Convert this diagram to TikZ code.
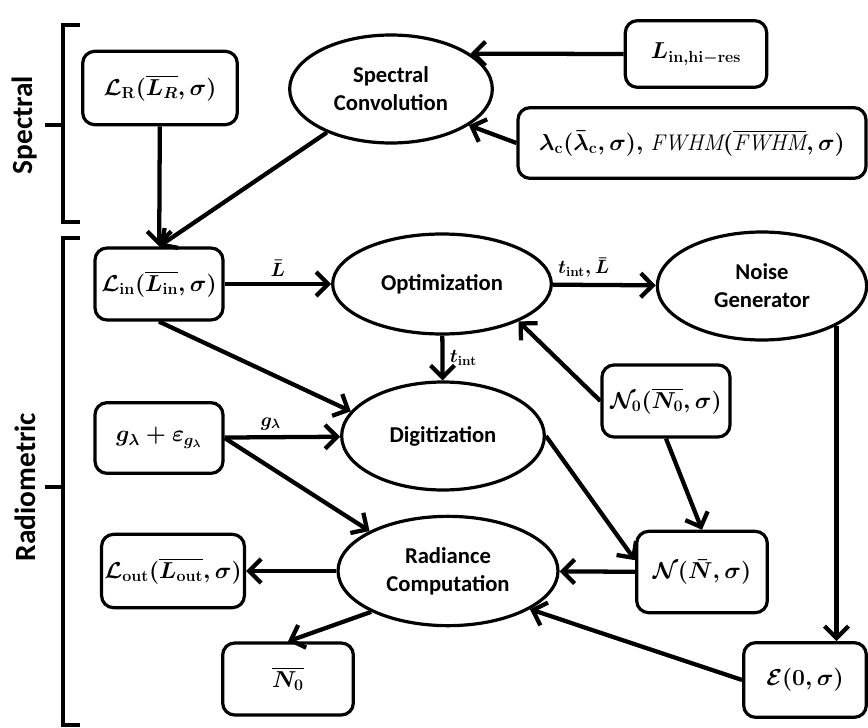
\documentclass[tikz,border=0pt]{standalone}
\usepackage{amsmath}
\usepackage{amssymb}
\usepackage{fontspec}
\setsansfont{Carlito}
\usetikzlibrary{positioning, arrows.meta, shapes.geometric}
\tikzstyle{arrow} = [line width=3.2pt,-{Straight Barb[length=9pt,width=18pt]}]

\begin{document}
\begin{tikzpicture}[x=0.75pt,y=-0.75pt]
    \tikzstyle{every node}=[font=\fontsize{17}{21}\selectfont\boldmath]
    \tikzstyle{block} = [rectangle, rounded corners=9pt, draw=black,
    line width=2.4pt, align=center, inner sep=2pt]
    \tikzstyle{process} = [ellipse, draw=black, line width=2.4pt, align=center,
    inner sep=1pt, font=\sffamily\bfseries\fontsize{17}{21}\selectfont]
    \tikzstyle{tag} = [font=\fontsize{14}{16}\selectfont\boldmath, inner sep=2pt]
    \tikzstyle{side} = [rotate=90, font=\sffamily\bfseries\fontsize{22}{26}\selectfont]

    \useasboundingbox (0,0) rectangle (868,728);

    % spectral part
    \node[block, minimum width=116pt, minimum height=55pt] (lr) at (160,88)
    {$\mathcal{L}_{\mathbf{R}}(\overline{L_R},\sigma)$};
    \node[process, minimum width=152pt, minimum height=81pt] (conv) at (391,89)
    {Spectral\\Convolution};
    \node[block, minimum width=106pt, minimum height=50pt] (hires) at (696,54)
    {$L_{\mathbf{in,hi-res}}$};
    \node[block, minimum width=261pt, minimum height=53pt] (lam) at (692,143)
    {$\lambda_{\mathbf{c}}(\bar{\lambda}_{\mathbf{c}},\sigma),$ {\itshape FWHM}$(\overline{\hbox{\itshape FWHM}},\sigma)$};

    % radiometric part
    \node[block, minimum width=96pt, minimum height=54pt] (lin) at (159,284)
    {$\mathcal{L}_{\mathbf{in}}(\overline{L_{\mathbf{in}}},\sigma)$};
    \node[process, minimum width=164pt, minimum height=75pt] (opt) at (442,284)
    {Optimization};
    \node[process, minimum width=157pt, minimum height=81pt] (ng) at (762,286)
    {Noise\\Generator};
    \node[block, minimum width=96pt, minimum height=54pt] (n0) at (666,401)
    {$\mathcal{N}_0(\overline{N_0},\sigma)$};
    \node[block, minimum width=96pt, minimum height=53pt] (g) at (159,438)
    {$g_\lambda+\varepsilon_{g_\lambda}$};
    \node[process, minimum width=152pt, minimum height=81pt] (dig) at (443,436)
    {Digitization};
    \node[process, minimum width=165pt, minimum height=82pt] (rad) at (448,571)
    {Radiance\\Computation};
    \node[block, minimum width=107pt, minimum height=55pt] (lout) at (173,571)
    {$\mathcal{L}_{\mathbf{out}}(\overline{L_{\mathbf{out}}},\sigma)$};
    \node[block, minimum width=98pt, minimum height=61pt] (n) at (702,572)
    {$\mathcal{N}(\bar{N},\sigma)$};
    \node[block, minimum width=98pt, minimum height=54pt] (n0bar) at (288,679)
    {$\overline{N_0}$};
    \node[block, minimum width=92pt, minimum height=56pt] (e) at (805,680)
    {$\mathcal{E}(0,\sigma)$};

    % connectors
    \draw[arrow] (lr) -- (lin);
    \draw[arrow] (conv) -- (lin.north);
    \draw[arrow] (hires.west) -- (conv.24);
    \draw[arrow] (lam.west) -- (conv.-25);
    \draw[arrow] (lin) -- (opt) node[tag, midway, above=2pt] {$\bar{L}$};
    \draw[arrow] (opt) -- (ng) node[tag, pos=0.3, above=2pt] {$t_{\mathbf{int}},\bar{L}$};
    \draw[arrow] (opt) -- (dig) node[tag, midway, right=2pt] {$t_{\mathbf{int}}$};
    \draw[arrow] (lin.south) -- (dig.165);
    \draw[arrow] (g) -- (dig) node[tag, pos=0.4, above=2pt] {$g_\lambda$};
    \draw[arrow] (g.east) -- (rad.153);
    \draw[arrow] (n0.west) -- (opt.-26);
    \draw[arrow] (n0.south) -- (n.north);
    \draw[arrow] (dig.east) -- (n.170);
    \draw[arrow] (ng.-28) -- (ng.-28 |- e.north);
    \draw[arrow] (n) -- (rad);
    \draw[arrow] (e.west) -- (rad.-25);
    \draw[arrow] (rad) -- (lout);
    \draw[arrow] (rad.208) -- (n0bar.north);

    % brackets
    \draw[line width=3pt] (80,25) -- (63,25) -- (63,222) -- (80,222);
    \draw[line width=3pt] (63,125) -- (45,125);
    \draw[line width=3pt] (80,238) -- (63,238) -- (63,725) -- (80,725);
    \draw[line width=3pt] (63,487) -- (45,487);
    \node[side] (spec) at (25,125) {Spectral};
    \node[side] (radio) at (25,487) {Radiometric};
\end{tikzpicture}
\end{document}
